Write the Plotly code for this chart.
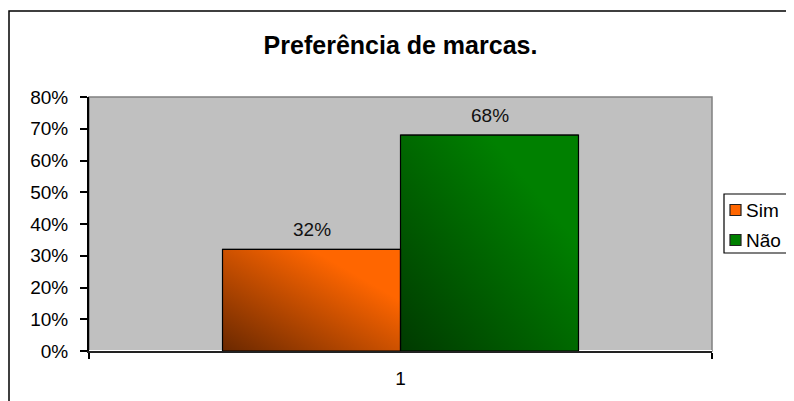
import urllib.parse
import plotly.graph_objects as go

categories = ["1"]
series_names = ["Sim", "Não"]
sim_values = [0.32]
nao_values = [0.68]
y_tickvals = [0, 0.1, 0.2, 0.3, 0.4, 0.5, 0.6, 0.7, 0.8]
y_ticktext = ["0%", "10%", "20%", "30%", "40%", "50%", "60%", "70%", "80%"]

FONT = "Liberation Sans, Arial, sans-serif"
colors_light = ["#FF6600", "#008000"]
colors_dark = ["#6A2800", "#003A00"]
bargap = 0.4286

W, H = 786, 393  # page body has an 8px default margin
ML, MR, MT, MB = 81, 82, 89, 50
PW, PH = W - ML - MR, H - MT - MB


def px(xp):
    return (xp - ML) / PW


def py(yp):
    return (H - MB - yp) / PH


fig = go.Figure()
for name, vals, c in zip(series_names, [sim_values, nao_values], colors_light):
    fig.add_trace(go.Bar(
        name=name, x=categories, y=vals, showlegend=False,
        marker=dict(color=c, line=dict(color="black", width=1)),
    ))

bw = (1 - bargap) / len(series_names)
for i, (vals, cl, cd) in enumerate(zip([sim_values, nao_values], colors_light, colors_dark)):
    svg = (
        "<svg xmlns='http://www.w3.org/2000/svg' width='100' height='100' viewBox='0 0 100 100' preserveAspectRatio='none'>"
        "<defs><linearGradient id='g' x1='0' y1='1' x2='1' y2='0'>"
        f"<stop offset='0' stop-color='{cd}'/><stop offset='0.75' stop-color='{cl}'/><stop offset='1' stop-color='{cl}'/>"
        "</linearGradient></defs><rect width='100' height='100' fill='url(#g)'/></svg>"
    )
    uri = "data:image/svg+xml;charset=utf-8," + urllib.parse.quote(svg)
    for j, v in enumerate(vals):
        x0 = j - (1 - bargap) / 2 + i * bw
        fig.add_layout_image(dict(
            source=uri, xref="x", yref="y", x=x0, y=v, sizex=bw, sizey=v,
            xanchor="left", yanchor="top", sizing="stretch", layer="above", opacity=1,
        ))
        fig.add_shape(type="rect", xref="x", yref="y", x0=x0, x1=x0 + bw, y0=0, y1=v,
                      line=dict(color="black", width=1.2), fillcolor="rgba(0,0,0,0)", layer="above")
        fig.add_annotation(x=x0 + bw / 2, y=v, xref="x", yref="y", text=f"{v:.0%}",
                           showarrow=False, yanchor="bottom", yshift=7,
                           font=dict(family=FONT, size=19, color="#111111"))

# legend (box runs off the right edge, as in the reference)
fig.add_shape(type="rect", xref="paper", yref="paper", x0=px(716), x1=px(W + 20),
              y0=py(245), y1=py(186), line=dict(color="black", width=1.2), fillcolor="white")
for k, (name, c, cd) in enumerate(zip(series_names, colors_light, colors_dark)):
    yc = 202 + 30 * k
    fig.add_shape(type="rect", xref="paper", yref="paper", x0=px(722), x1=px(733),
                  y0=py(yc + 5.5), y1=py(yc - 5.5), line=dict(color="#222222", width=1.2), fillcolor=c)
    fig.add_annotation(x=px(737), y=py(yc), xref="paper", yref="paper", text=name,
                       showarrow=False, xanchor="left", yanchor="middle", borderpad=0,
                       font=dict(family=FONT, size=19, color="black"))

fig.update_layout(
    width=W, height=H,
    margin=dict(l=ML, r=MR, t=MT, b=MB, autoexpand=False),
    paper_bgcolor="white", plot_bgcolor="#C0C0C0",
    barmode="group", bargap=bargap, bargroupgap=0,
    font=dict(family=FONT, size=19, color="black"),
    title=dict(text="<b>Preferência de marcas.</b>", x=0.5, xref="paper", xanchor="center",
               y=1 - 37 / H, yanchor="middle", font=dict(family=FONT, size=25, color="black")),
    showlegend=False,
    xaxis=dict(type="category", range=[-0.5, 0.5], tickson="boundaries", ticks="outside",
               ticklen=6, tickcolor="black", tickwidth=1.5, showline=True, linecolor="#222222",
               linewidth=2, showgrid=False, ticklabelstandoff=9,
               tickfont=dict(family=FONT, size=19, color="black")),
    yaxis=dict(range=[0, 0.8], tickvals=y_tickvals, ticktext=y_ticktext, ticks="outside",
               ticklen=7, tickcolor="black", tickwidth=1.5, showline=True, linecolor="black",
               linewidth=2, showgrid=False, ticklabelstandoff=8,
               tickfont=dict(family=FONT, size=19, color="black")),
)

fig.add_shape(type="rect", xref="paper", yref="paper", x0=0, x1=1, y0=0, y1=1,
              line=dict(color="#808080", width=1.5), fillcolor="rgba(0,0,0,0)", layer="below")
fig.add_shape(type="rect", xref="paper", yref="paper",
              x0=px(1), x1=px(W + 20), y0=py(H + 20), y1=py(3),
              line=dict(color="black", width=1.5), fillcolor="rgba(0,0,0,0)", layer="above")

fig.write_html("out.html")
